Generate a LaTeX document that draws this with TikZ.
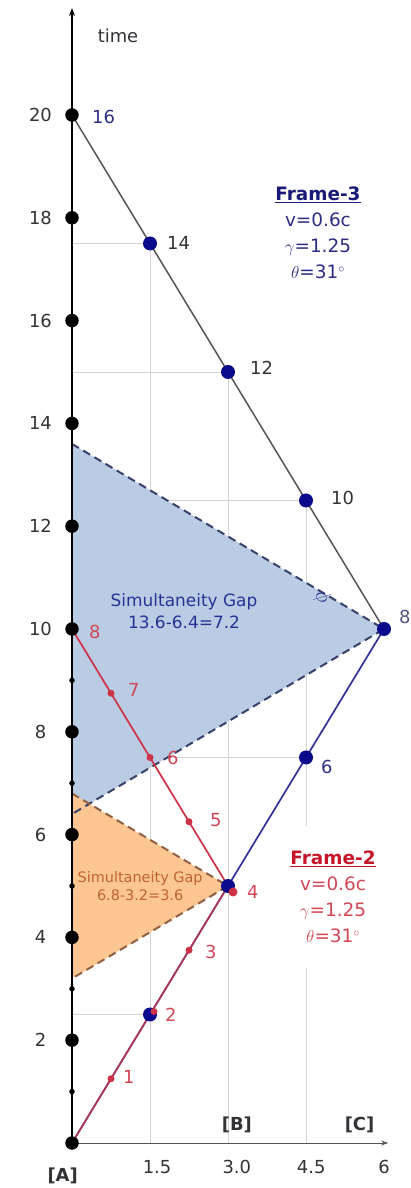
\documentclass[tikz,border=0pt]{standalone}
\usepackage{fontspec}
\setmainfont{DejaVu Sans}
\usetikzlibrary{arrows.meta}
\definecolor{gridgray}{RGB}{212,212,212}
\definecolor{gapblue}{RGB}{186,204,227}
\definecolor{gaporange}{RGB}{252,198,146}
\definecolor{dashblue}{RGB}{55,65,105}
\definecolor{dashbrown}{RGB}{145,95,65}
\definecolor{dotblue}{RGB}{10,10,140}
\definecolor{lineblue}{RGB}{50,50,150}
\definecolor{linegray}{RGB}{85,85,85}
\definecolor{linered}{RGB}{205,50,70}
\definecolor{txtred}{RGB}{210,70,85}
\definecolor{txtblue}{RGB}{45,45,130}
\definecolor{txtslate}{RGB}{85,85,125}
\definecolor{txtdark}{RGB}{50,50,55}
\definecolor{gapbluetxt}{RGB}{40,50,150}
\definecolor{gaporangetxt}{RGB}{190,100,50}
\definecolor{framered}{RGB}{200,20,40}
\definecolor{frameblue}{RGB}{25,25,120}
\begin{document}
\begin{tikzpicture}[x=52bp,y=51.4bp,
  grid/.style={gridgray, line width=0.9bp},
  bigdot/.style={circle, fill=black, inner sep=0pt, minimum size=13.5bp},
  smalldot/.style={circle, fill=black, inner sep=0pt, minimum size=5.5bp},
  bluedot/.style={circle, fill=dotblue, inner sep=0pt, minimum size=14bp},
  reddot/.style={circle, fill=linered, inner sep=0pt, minimum size=7bp},
  lbl/.style={font=\fontsize{18}{21}\selectfont, inner sep=0pt},
  ticklbl/.style={lbl, text=txtdark},
  ptlbl/.style={lbl, anchor=west},
  redlbl/.style={ptlbl, text=txtred},
  framebox/.style={fill=white, align=center, inner xsep=4bp, inner ysep=25bp,
     font=\fontsize{18.5}{26}\selectfont},
  dashline/.style={dashed, dash pattern=on 8bp off 5bp, line width=2bp}
]
\useasboundingbox (-72bp,-45bp) rectangle (339bp,1143bp);

% event coordinates
\coordinate (O) at (0,0);
\coordinate (b2) at (1.5,2.5);
\coordinate (b4) at (3,5);
\coordinate (b6) at (4.5,7.5);
\coordinate (b8) at (6,10);
\coordinate (b10) at (4.5,12.5);
\coordinate (b12) at (3,15);
\coordinate (b14) at (1.5,17.5);
\coordinate (b16) at (0,20);
\coordinate (r1) at (0.75,1.25);
\coordinate (r2) at (1.5,2.5);
\coordinate (r3) at (2.25,3.75);
\coordinate (r4) at (3,5);
\coordinate (r5) at (2.25,6.25);
\coordinate (r6) at (1.5,7.5);
\coordinate (r7) at (0.75,8.75);
\coordinate (r8) at (0,10);
\coordinate (g3top) at (0,13.6);
\coordinate (g3bot) at (0,6.4);
\coordinate (g2top) at (0,6.8);
\coordinate (g2bot) at (0,3.2);
\coordinate (xend) at (6.08,0);
\coordinate (tend) at (0,22.08);

% grid
\draw[grid] (b14 |- O) -- (b14) -- (b14 -| O);
\draw[grid] (b12 |- O) -- (b12) -- (b12 -| O);
\draw[grid] (b10 |- O) -- (b10) -- (b10 -| O);
\draw[grid] (b6) -- (b6 -| O);
\draw[grid] (b2) -- (b2 -| O);

% simultaneity gaps
\fill[gapblue] (g3top) -- (b8) -- (g3bot) -- cycle;
\fill[gaporange] (g2top) -- (b4) -- (g2bot) -- cycle;
\draw[dashline, dashblue] (g3top) -- (b8) -- (g3bot);
\draw[dashline, dashbrown] (g2top) -- (b4) -- (g2bot);

% frame text boxes (white backing)
\node[framebox, text=txtblue] (f3) at (4.73,17.71)
  {\textcolor{frameblue}{\underline{\textbf{Frame-3}}}\\v=0.6c\\$\gamma$=1.25\\$\theta$=31$^{\circ}$};
\node[framebox, text=txtred] (f2) at (5.02,4.79)
  {\textcolor{framered}{\underline{\textbf{Frame-2}}}\\v=0.6c\\$\gamma$=1.25\\$\theta$=31$^{\circ}$};

% axes
\draw[linegray, line width=1bp, -{Stealth[length=7bp,width=5bp]}] (O) -- (xend);
\draw[black, line width=2.6bp, -{Stealth[length=8bp,width=6bp]}] (O) -- (tend);

% world lines
\draw[lineblue, line width=1.7bp] (O) -- (b8);
\draw[linegray, line width=1.5bp] (b8) -- (b16);
\draw[linered, line width=1.7bp, opacity=0.8] (O) -- (r4);
\draw[linered, line width=1.7bp] (r4) -- (r8);

% dots on time axis
\foreach \t in {0,2,...,20} \node[bigdot] (A\t) at (0,\t) {};
\foreach \t in {1,3,5,7,9} \node[smalldot] (a\t) at (0,\t) {};

% frame-3 dots
\foreach \p in {2,4,6,8,10,12,14} \node[bluedot] (B\p) at (b\p) {};

% frame-2 dots
\foreach \p in {1,3,5,6,7} \node[reddot] (R\p) at (r\p) {};
\node[reddot] (R2) at ([xshift=4bp,yshift=3bp]r2) {};
\node[reddot, minimum size=9bp] (R4) at ([xshift=5bp,yshift=-6bp]r4) {};

% tick labels
\foreach \t in {2,4,...,20} \node[ticklbl] (ty\t) at (-0.606,\t) {\t};
\node[ticklbl] (tx1) at (1.635,-0.467) {1.5};
\node[ticklbl] (tx2) at (3.17,-0.467) {3.0};
\node[ticklbl] (tx3) at (4.6,-0.467) {4.5};
\node[ticklbl] (tx4) at (6.0,-0.467) {6};
\node[lbl, text=txtdark] (time) at (0.885,21.54) {time};
\node[lbl, text=txtdark, font=\fontsize{18}{21}\selectfont\bfseries] (LA) at (-0.18,-0.64) {[A]};
\node[lbl, text=txtdark, font=\fontsize{18}{21}\selectfont\bfseries] (LB) at (3.17,0.35) {[B]};
\node[lbl, text=txtdark, font=\fontsize{18}{21}\selectfont\bfseries] (LC) at (5.53,0.35) {[C]};

% frame-3 point labels
\node[ptlbl, text=txtblue] (l16) at ([xshift=20bp,yshift=-2bp]b16) {16};
\node[ptlbl, text=txtdark] (l14) at ([xshift=17bp,yshift=1bp]b14) {14};
\node[ptlbl, text=txtdark] (l12) at ([xshift=22bp,yshift=4bp]b12) {12};
\node[ptlbl, text=txtdark] (l10) at ([xshift=25bp,yshift=3bp]b10) {10};
\node[ptlbl, text=txtslate] (l8) at ([xshift=15bp,yshift=12bp]b8) {8};
\node[ptlbl, text=txtblue] (l6) at ([xshift=15bp,yshift=-9bp]b6) {6};

% frame-2 point labels
\node[redlbl] (k1) at ([xshift=12bp,yshift=2bp]r1) {1};
\node[redlbl] (k2) at ([xshift=15bp]r2) {2};
\node[redlbl] (k3) at ([xshift=16bp,yshift=-2bp]r3) {3};
\node[redlbl] (k4) at ([xshift=19bp,yshift=-6bp]r4) {4};
\node[redlbl] (k5) at ([xshift=21bp,yshift=2bp]r5) {5};
\node[redlbl] (k6) at ([xshift=17bp]r6) {6};
\node[redlbl] (k7) at ([xshift=17bp,yshift=3bp]r7) {7};
\node[redlbl] (k8) at ([xshift=17bp,yshift=-3bp]r8) {8};

% gap labels
\node[align=center, text=gapbluetxt, font=\fontsize{17}{22}\selectfont, inner sep=0pt] (gap3) at (2.154,10.35)
  {Simultaneity Gap\\13.6-6.4=7.2};
\node[align=center, text=gaporangetxt, font=\fontsize{14.5}{17.5}\selectfont, inner sep=0pt] (gap2) at (1.31,5.0)
  {Simultaneity Gap\\6.8-3.2=3.6};
\node[text=lineblue, font=\fontsize{21}{21}\selectfont, rotate=-60, inner sep=0pt] (phi) at (4.81,10.62) {$\phi$};
\end{tikzpicture}
\end{document}
